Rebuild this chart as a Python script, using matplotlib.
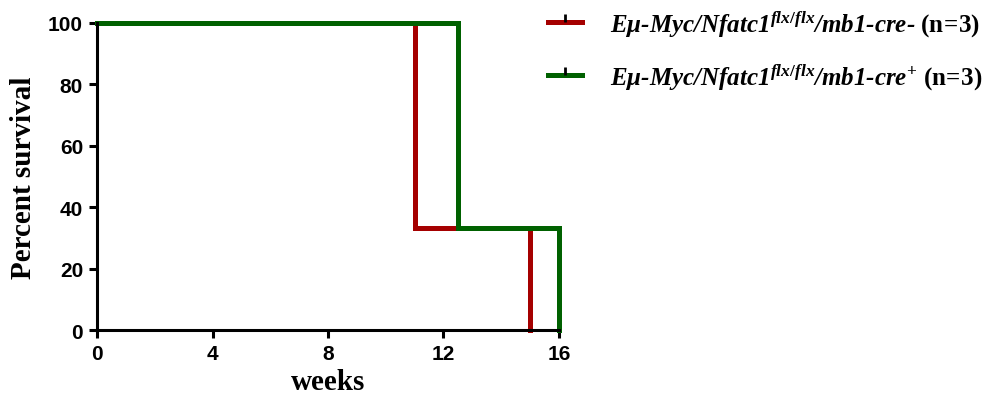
import matplotlib
matplotlib.use("Agg")
import matplotlib.pyplot as plt
from matplotlib.lines import Line2D
from matplotlib.path import Path

# Kaplan-Meier steps (weeks, percent survival)
weeks_neg = [0, 11, 15]
surv_neg = [100, 100 / 3, 0]
weeks_pos = [0, 12.5, 16]
surv_pos = [100, 100 / 3, 0]

labels = [
    r"E$\mathit{\mu}$-Myc/Nfatc1$^{\mathit{flx/flx}}$/mb1-cre- $\mathrm{(n\!=\!3)}$",
    r"E$\mathit{\mu}$-Myc/Nfatc1$^{\mathit{flx/flx}}$/mb1-cre$^{+}$ $\mathrm{(n\!=\!3)}$",
]
colors = ["#a50000", "#006100"]
xticks = [0, 4, 8, 12, 16]
yticks = [0, 20, 40, 60, 80, 100]

plt.rcParams["mathtext.fontset"] = "custom"
plt.rcParams["mathtext.it"] = "Liberation Serif:bold:italic"
plt.rcParams["mathtext.rm"] = "Liberation Serif:bold"
plt.rcParams["mathtext.bf"] = "Liberation Serif:bold"

fig = plt.figure(figsize=(9.95, 4.06), dpi=100)
ax = fig.add_axes([0.0975, 0.1847, 0.4643, 0.7562])

ax.step(weeks_neg, surv_neg, where="post", color=colors[0], lw=3.6,
        solid_joinstyle="miter", clip_on=False)
ax.step(weeks_pos, surv_pos, where="post", color=colors[1], lw=3.6,
        solid_joinstyle="miter", clip_on=False)

ax.set_xlim(0, 16)
ax.set_ylim(0, 100)
ax.set_xticks(xticks)
ax.set_yticks(yticks)
for s in ["top", "right"]:
    ax.spines[s].set_visible(False)
for s in ["left", "bottom"]:
    ax.spines[s].set_linewidth(2.2)
ax.tick_params(width=2.2, length=6, direction="out", pad=4)
for t in ax.get_xticklabels() + ax.get_yticklabels():
    t.set_fontfamily("Liberation Sans")
    t.set_fontweight("bold")
    t.set_fontsize(15)

ax.set_xlabel("weeks", family="Liberation Serif", weight="bold", fontsize=21, labelpad=4)
ax.set_ylabel("Percent survival", family="Liberation Serif", weight="bold", fontsize=21, labelpad=8)

# censor-tick style handles
tick = Path([(0, 0), (0, 1)])
handles = [Line2D([], [], color=c, lw=3.6, marker=tick, markersize=11,
                  markeredgecolor="black", markeredgewidth=2) for c in colors]
leg = fig.legend(handles, labels, loc="upper left", bbox_to_anchor=(0.551, 0.978),
                 frameon=False, borderpad=0, borderaxespad=0,
                 handlelength=1.36, handletextpad=1.1, labelspacing=0.95,
                 prop={"family": "Liberation Serif", "style": "italic",
                       "weight": "bold", "size": 18})

fig.savefig("out.png", dpi=100)
